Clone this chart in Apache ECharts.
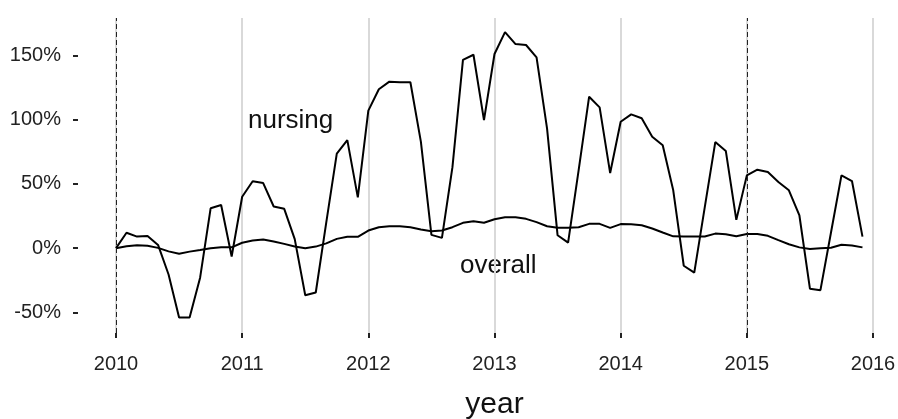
<!DOCTYPE html>
<html>
<head>
<meta charset="utf-8">
<script src="https://cdn.jsdelivr.net/npm/echarts@6/dist/echarts.min.js"></script>
<style>
html,body{margin:0;padding:0;background:#fff;}
#chart{width:898px;height:419px;}
</style>
</head>
<body>
<div id="chart"></div>
<script>
const years = [2010, 2011, 2012, 2013, 2014, 2015];
const yearTicks = [2010, 2011, 2012, 2013, 2014, 2015, 2016];
const yTicks = [-50, 0, 50, 100, 150];
const dashedYears = [2010, 2015];

const nursing = [
  0, 12, 9, 9.5, 2.5, -20.5, -54, -54, -23, 31, 33.5, -6.5,
  40, 52, 50.6, 32.4, 30.6, 7, -36.6, -34.5, 20, 73.5, 84, 39.5,
  107, 123.6, 129.5, 129, 129, 82.7, 10.3, 8, 63, 146.5, 150.4, 99.6,
  151, 168, 158.7, 158, 148.3, 93, 10, 4.3, 60.5, 117.8, 109.5, 58.4,
  98.3, 104, 101, 86.7, 80, 45, -13.7, -19, 31.9, 82.5, 75.6, 22,
  56.6, 61, 59.2, 51.4, 45, 25.4, -31.5, -32.7, 12, 56.6, 52.2, 9
];
const overall = [
  0, 1.5, 2.2, 1.8, 0.2, -2.5, -4.3, -2.7, -1.4, 0, 0.6, 0.6,
  4.2, 5.9, 6.7, 5.2, 3.3, 1.3, 0, 1.2, 3.7, 7.2, 8.8, 8.8,
  13.7, 16.3, 17, 17, 16.3, 14.5, 13.2, 13.7, 16.3, 19.7, 21, 19.7,
  22.5, 24, 24, 22.8, 20.2, 17, 15.8, 15.8, 16.3, 18.9, 18.9, 15.8,
  18.7, 18.5, 17.8, 15.3, 12.2, 9.2, 9, 9, 9, 11.3, 10.8, 9.3,
  11, 11, 9.6, 6.2, 3, 0.6, -0.6, -0.1, 0.3, 2.6, 2, 0.6
];

// month positions (decimal years) for each monthly observation
const monthX = [];
years.forEach(y => { for (let m = 0; m < 12; m++) monthX.push(y + m / 12); });

const pair = arr => arr.map((v, i) => [monthX[i], v]);

const FONT = 'Liberation Sans, Arial, sans-serif';
const chart = echarts.init(document.getElementById('chart'), null, {renderer: 'canvas'});
chart.setOption({
  animation: false,
  backgroundColor: '#fff',
  grid: {left: 116, right: 25, top: 18, bottom: 86, containLabel: false, outerBoundsMode: 'none'},
  xAxis: {
    type: 'value', min: 2010, max: 2016, interval: 1,
    name: 'year', nameLocation: 'middle', nameGap: 57,
    nameTextStyle: {fontFamily: FONT, fontSize: 30, color: '#111'},
    axisLine: {show: false, onZero: false},
    axisTick: {show: true, length: 5, lineStyle: {color: '#222', width: 2}},
    axisLabel: {fontFamily: FONT, fontSize: 20, color: '#222', margin: 21,
      formatter: v => String(v)},
    splitLine: {show: true, lineStyle: {color: '#d9d9d9', width: 2}}
  },
  yAxis: {
    type: 'value', min: -66, max: 179,
    offset: 38,
    axisLine: {show: false},
    axisTick: {show: true, length: 5, customValues: yTicks, lineStyle: {color: '#222', width: 2}},
    axisLabel: {fontFamily: FONT, fontSize: 20, color: '#222', margin: 17,
      customValues: yTicks, formatter: v => v + '%'},
    splitLine: {show: false}
  },
  series: [
    {
      name: 'overall', type: 'line', data: pair(overall), showSymbol: false,
      lineStyle: {color: '#000', width: 2}, z: 3,
      markLine: {
        silent: true, symbol: 'none', label: {show: false},
        lineStyle: {color: '#222', type: [5, 3], width: 1},
        data: dashedYears.map(y => ({xAxis: y}))
      }
    },
    {
      name: 'nursing', type: 'line', data: pair(nursing), showSymbol: false,
      lineStyle: {color: '#000', width: 2}, z: 4
    }
  ],
  graphic: [
    {type: 'text', left: 248, top: 108, style: {text: 'nursing', font: '26px ' + FONT, fill: '#111'}},
    {type: 'text', left: 460, top: 253, style: {text: 'overall', font: '26px ' + FONT, fill: '#111'}}
  ]
});
</script>
</body>
</html>
